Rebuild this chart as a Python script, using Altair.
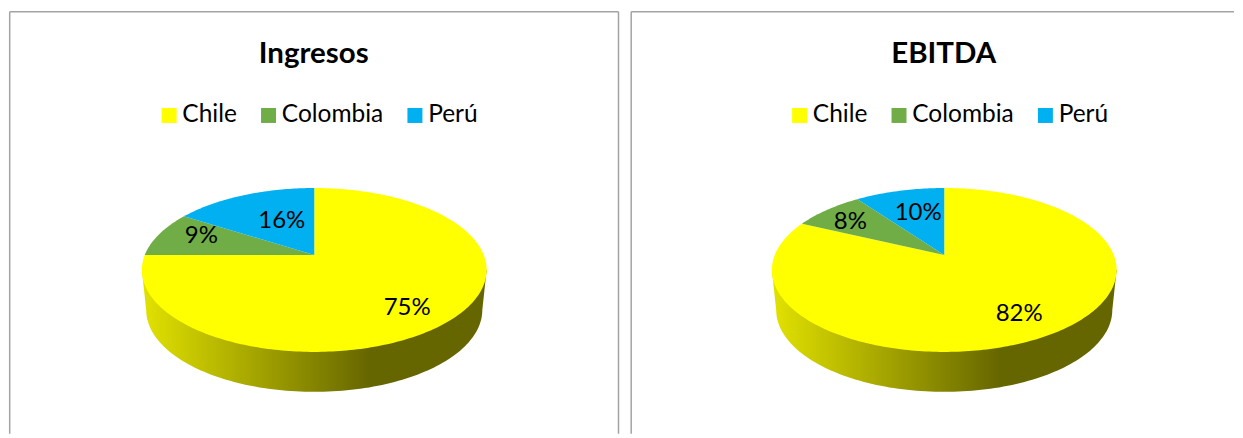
import math
import altair as alt
import pandas as pd

# ---- data ----
countries = ["Chile", "Colombia", "Perú"]
ingresos = [75, 9, 16]
ebitda = [82, 8, 10]
panel_titles = ["Ingresos", "EBITDA"]

# ---- style and layout ----
colors = ["#FFFF00", "#70AD47", "#00B0F0"]
FONT = "Lato"
FRAME = "#a3a3a3"
H = 426
K, A, B = 0.183, 79.26, 169.6      # perspective of the tilted disc
DEPTH_Y, DEPTH_X = 40, 0.975       # lower rim of the disc
APEX_Y = 247                       # relative to panel top
LABEL_R = {"Ingresos": [0.77, 0.74, 0.51], "EBITDA": [0.76, 0.75, 0.61]}
LABEL_TURN = {"Ingresos": [5.6, 3.5, 4.7], "EBITDA": [1.6, -2.7, 1.8]}


def project(angle_deg, r, cx, cy=APEX_Y, depth=0.0):
    a = math.radians(angle_deg)
    u, v = r * math.sin(a), r * math.cos(a)
    d = 1 + K * v
    sx = DEPTH_X if depth else 1.0
    return cx + sx * B * u / d, cy - A * v / d + depth


def slices_frame(values, cx):
    rows, start = [], 0.0
    for name, val in zip(countries, values):
        sweep = val * 3.6
        n = max(int(sweep), 2)
        x, y = project(0, 0, cx)
        rows.append(dict(country=name, x=x, y=y, o=0))
        for i in range(n + 1):
            x, y = project(start + sweep * i / n, 1, cx)
            rows.append(dict(country=name, x=x, y=y, o=i + 1))
        start += sweep
    return pd.DataFrame(rows)


def wall_frame(cx):
    ang = math.degrees(math.acos(-K))
    pts = [project(-ang, 1, cx)]
    for i in range(121):
        t = (360 - ang) - (360 - 2 * ang) * i / 120
        pts.append(project(t, 1, cx, depth=DEPTH_Y))
    pts.append(project(ang, 1, cx))
    return pd.DataFrame([dict(x=p[0], y=p[1], o=i) for i, p in enumerate(pts)])


def labels_frame(title, values, cx):
    rows, start = [], 0.0
    for i, (name, val) in enumerate(zip(countries, values)):
        sweep = val * 3.6
        x, y = project(start + sweep / 2 + LABEL_TURN[title][i], LABEL_R[title][i], cx)
        rows.append(dict(country=name, x=x, y=y, label=f"{val}%"))
        start += sweep
    return pd.DataFrame(rows)


def frame_rules(left_px, right_px):
    base = alt.Chart(pd.DataFrame({"f": [0]})).mark_rule(color=FRAME, strokeWidth=1.5)
    rules = [base.encode(x=alt.value(left_px), x2=alt.value(right_px), y=alt.value(3.7))]
    rules.append(base.encode(x=alt.value(left_px), y=alt.value(3.7), y2=alt.value(H)))
    return rules


def panel(title, values, width, cx, legend_x, left_px, right_px, close_right, title_dx):
    xs = alt.Scale(domain=[0, width], range=[0, width])
    ys = alt.Scale(domain=[H, 0], range=[H, 0])
    X = alt.X("x:Q", scale=xs, axis=None)
    Y = alt.Y("y:Q", scale=ys, axis=None)
    gradient = alt.Gradient(
        gradient="linear", x1=0, x2=1, y1=0, y2=0,
        stops=[
            alt.GradientStop(offset=0, color="#e2e200"),
            alt.GradientStop(offset=0.66, color="#666600"),
            alt.GradientStop(offset=1, color="#666600"),
        ],
    )
    wall = alt.Chart(wall_frame(cx)).mark_line(
        fill=gradient, strokeWidth=0, interpolate="linear"
    ).encode(x=X, y=Y, order="o:Q")
    top = alt.Chart(slices_frame(values, cx)).mark_line(strokeWidth=0).encode(
        x=X, y=Y, order="o:Q",
        detail="country:N",
        fill=alt.Fill(
            "country:N",
            scale=alt.Scale(domain=countries, range=colors),
            legend=alt.Legend(
                title=None, orient="none", legendX=legend_x, legendY=95,
                direction="horizontal", symbolType="square", symbolSize=225,
                symbolStrokeWidth=0, labelFont=FONT, labelFontSize=24.5,
                labelColor="#000000", labelOffset=1, columnPadding=18.5,
                values=countries, labelLimit=200,
            ),
        ),
    )
    text = alt.Chart(labels_frame(title, values, cx)).mark_text(
        font=FONT, fontSize=24, color="#000000", baseline="middle", align="center"
    ).encode(x=X, y=Y, text="label:N")
    rules = frame_rules(left_px, right_px)
    if close_right:
        rules.append(
            alt.Chart(pd.DataFrame({"f": [0]})).mark_rule(color=FRAME, strokeWidth=1.5).encode(
                x=alt.value(right_px), y=alt.value(3.7), y2=alt.value(H)
            )
        )
    return alt.layer(*rules, wall, top, text).properties(
        width=width, height=H,
        title=alt.TitleParams(
            title, font=FONT, fontSize=29.5, fontWeight="bold", color="#000000",
            anchor="middle", frame="group", offset=-84, dx=title_dx, baseline="alphabetic",
        ),
    )


left = panel(panel_titles[0], ingresos, 617, 306.5, 149, 1.7, 611, True, -2.5)
right = panel(panel_titles[1], ebitda, 610, 320, 163, 6.7, 610, False, 14.5)

chart = alt.hconcat(left, right, spacing=0).resolve_scale(
    fill="independent"
).resolve_legend(fill="independent").properties(
    padding=0, background="#ffffff",
).configure_view(stroke=None, fill="#ffffff")

chart.save("out.html", embed_options={"renderer": "svg", "actions": False})
